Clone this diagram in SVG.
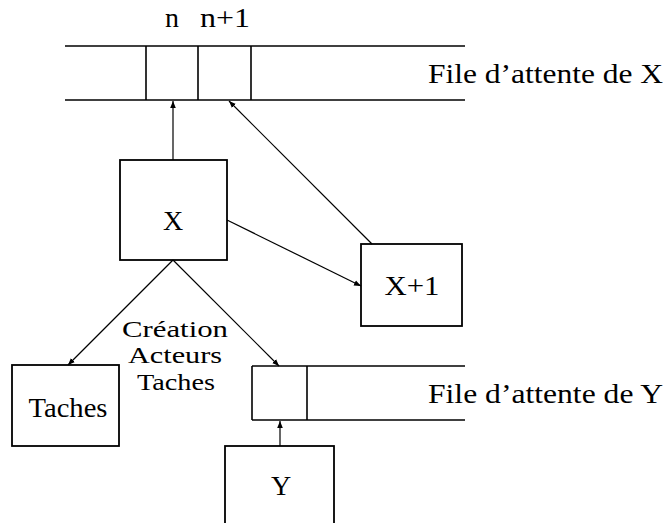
<svg xmlns="http://www.w3.org/2000/svg" width="668" height="523" viewBox="0 0 668 523">
<defs>
<marker id="ah" viewBox="0 0 10 10" refX="10" refY="5" markerWidth="7" markerHeight="7" orient="auto" markerUnits="userSpaceOnUse"><path d="M0,1 L10,5 L0,9 z" fill="#000"/></marker>
</defs>
<style>
.b{fill:#fff;stroke:#000;stroke-width:1.8}
.l{stroke:#000;stroke-width:1.6;fill:none}
.c{stroke:#000;stroke-width:1.2;fill:none;marker-end:url(#ah)}
text{font-family:"Liberation Serif","DejaVu Serif",serif;font-size:28px;fill:#000}
.m{text-anchor:middle}
.s{font-size:24px}
</style>
<rect width="668" height="523" fill="#fff"/>
<g id="queueX">
<line class="l" x1="65" y1="46" x2="465" y2="46"/>
<line class="l" x1="65" y1="100" x2="465" y2="100"/>
<line class="l" x1="146" y1="46" x2="146" y2="100"/>
<line class="l" x1="198" y1="46" x2="198" y2="100"/>
<line class="l" x1="251" y1="46" x2="251" y2="100"/>
<text x="172" y="27" class="m" font-size="26">n</text>
<text x="225" y="27" class="m" font-size="26" textLength="50" lengthAdjust="spacingAndGlyphs">n+1</text>
<text x="428" y="83" textLength="235" lengthAdjust="spacingAndGlyphs">File d’attente de X</text>
</g>
<g id="X"><rect class="b" x="120" y="160" width="107" height="100"/><text x="173" y="230" class="m">X</text></g>
<g id="X1"><rect class="b" x="361" y="244" width="101" height="82"/><text x="412" y="295" class="m" textLength="55" lengthAdjust="spacingAndGlyphs">X+1</text></g>
<g id="Taches"><rect class="b" x="12" y="365" width="107" height="81"/><text x="68" y="417" class="m" textLength="79" lengthAdjust="spacingAndGlyphs">Taches</text></g>
<g id="queueY">
<line class="l" x1="252" y1="366" x2="465" y2="366"/>
<line class="l" x1="252" y1="420" x2="465" y2="420"/>
<line class="l" x1="252" y1="366" x2="252" y2="420"/>
<line class="l" x1="307" y1="366" x2="307" y2="420"/>
<text x="428" y="403" textLength="235" lengthAdjust="spacingAndGlyphs">File d’attente de Y</text>
</g>
<g id="Y"><rect class="b" x="225" y="446" width="109" height="90"/><text x="281" y="495" class="m">Y</text></g>
<g id="label"><text x="175" y="337" class="m s" textLength="106" lengthAdjust="spacingAndGlyphs">Création</text><text x="175" y="363" class="m s" textLength="94" lengthAdjust="spacingAndGlyphs">Acteurs</text><text x="176" y="390" class="m s" textLength="78" lengthAdjust="spacingAndGlyphs">Taches</text></g>
<g id="connectors">
<line class="c" x1="173" y1="160" x2="173" y2="101"/>
<line class="c" x1="372" y1="244" x2="229" y2="101"/>
<line class="c" x1="227" y1="220" x2="361" y2="286"/>
<line class="c" x1="173" y1="260" x2="68" y2="365"/>
<line class="c" x1="173" y1="260" x2="279" y2="366"/>
<line class="c" x1="280" y1="446" x2="280" y2="421"/>
</g>
</svg>
